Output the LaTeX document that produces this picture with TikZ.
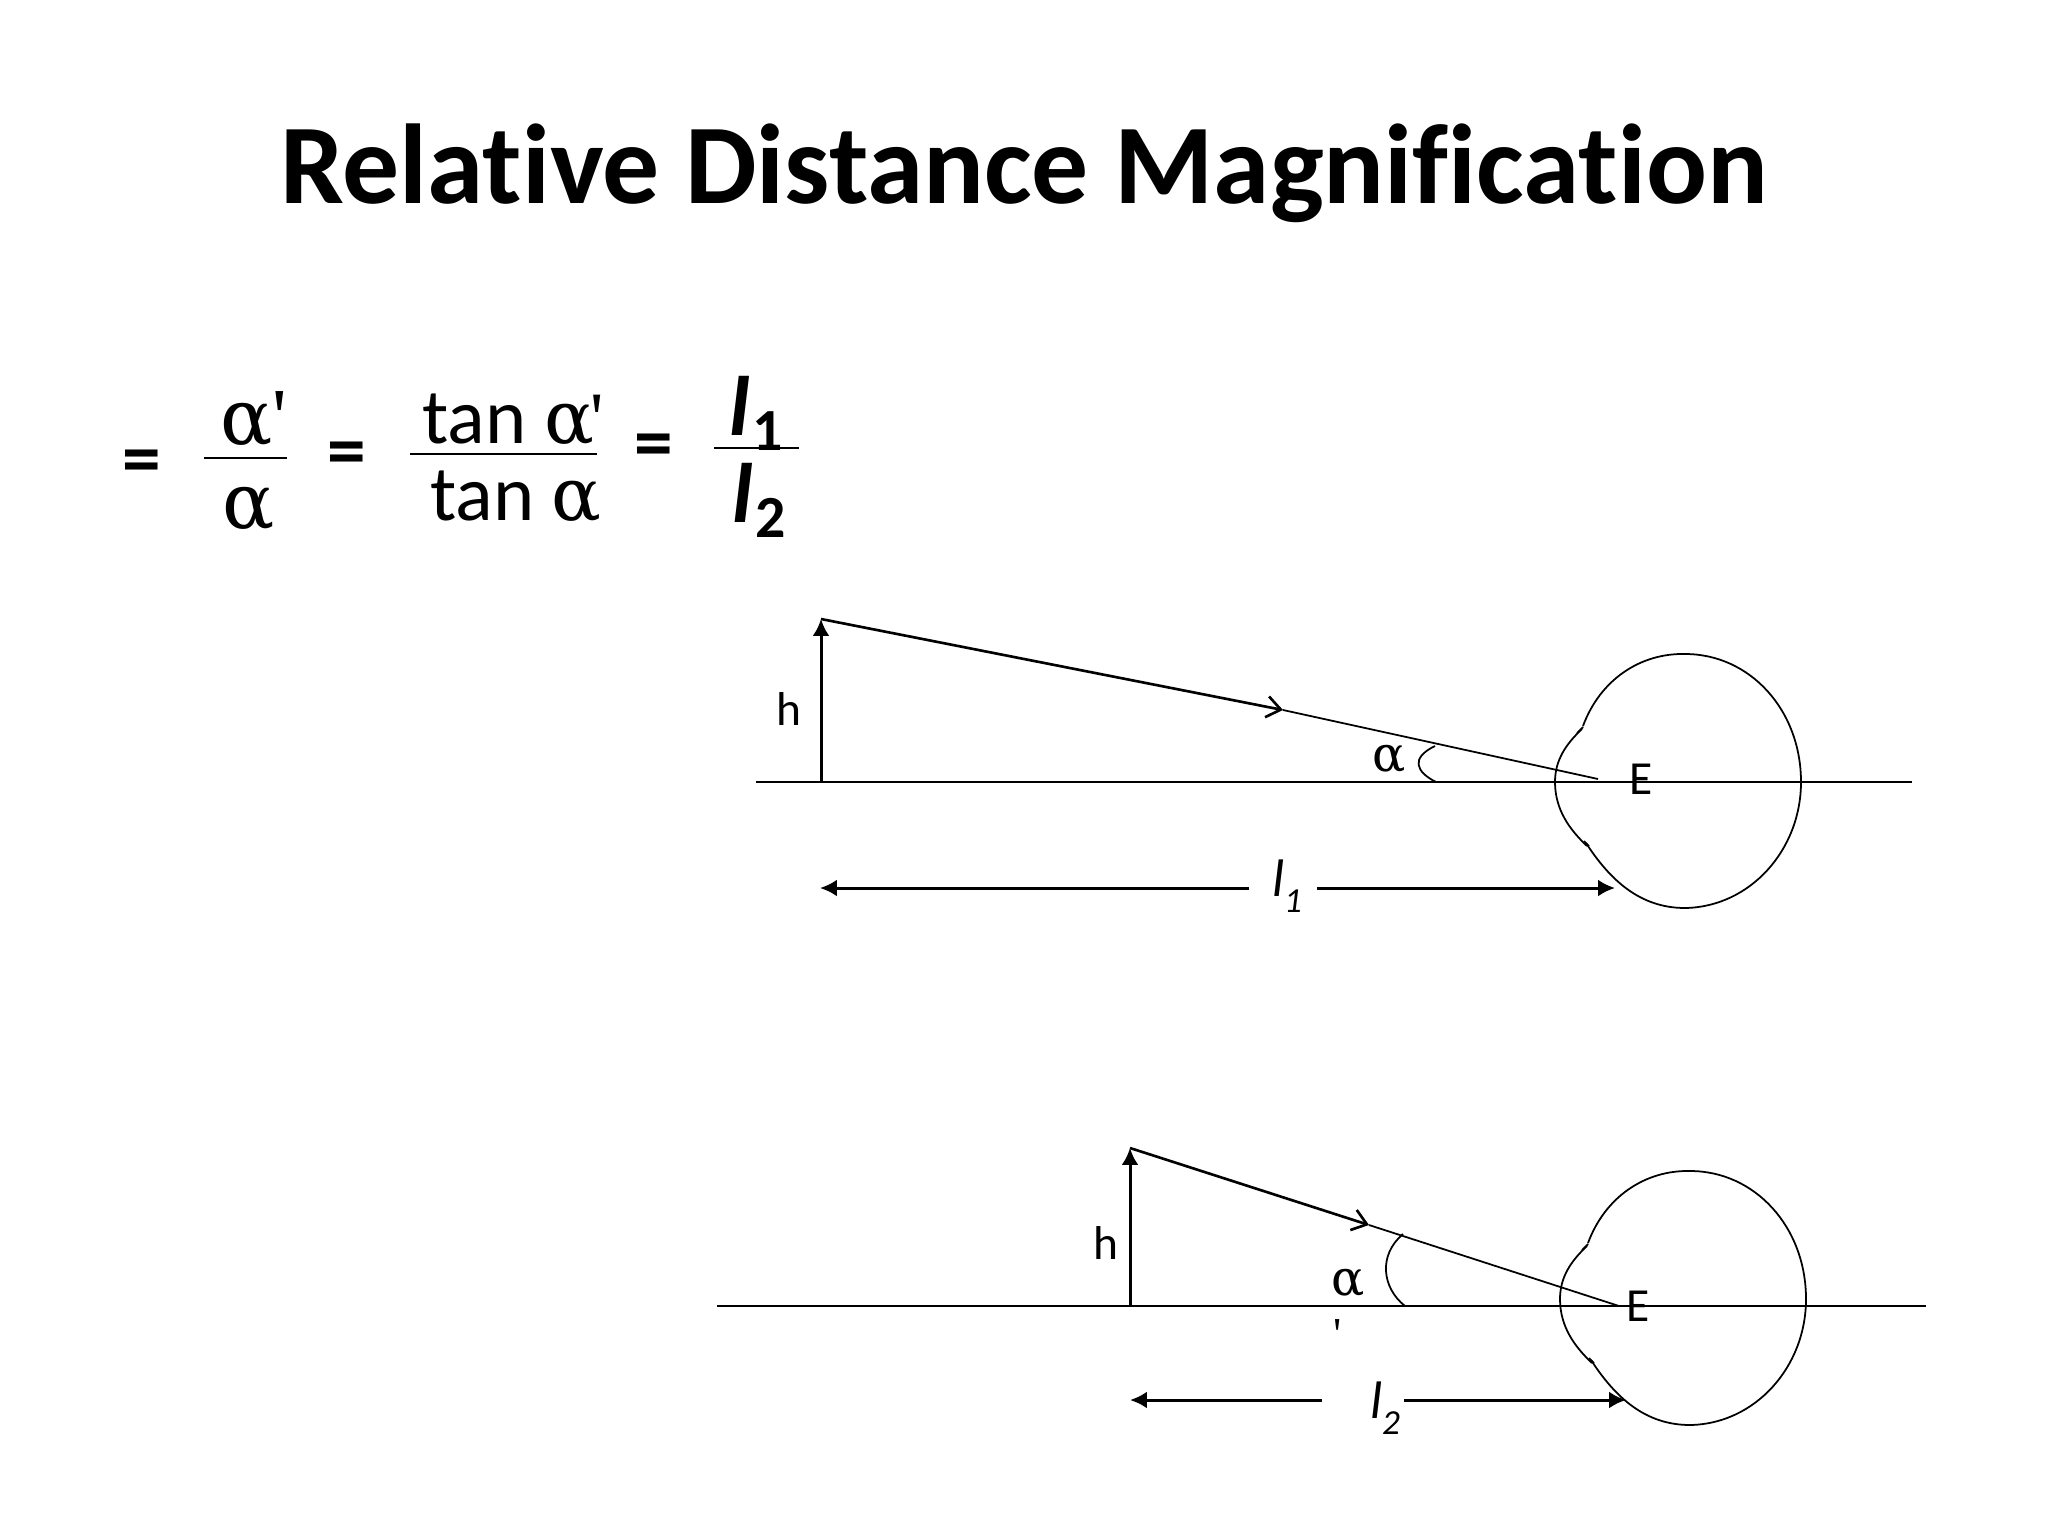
\documentclass[tikz,border=0pt]{standalone}
\usepackage{fontspec}
\defaultfontfeatures{}
\setmainfont{Carlito}[Ligatures={NoCommon,NoContextual}]
\newfontfamily\grk{DejaVu Serif}
\newfontfamily\prm{Liberation Serif}
\usetikzlibrary{arrows.meta}
\tikzset{
  px/.style={x=0.01cm,y=-0.01cm},
  lbl/.style={inner sep=0pt,outer sep=0pt,font=\fontsize{13.5}{15}\selectfont},
  eqn/.style={inner sep=0pt,outer sep=0pt,font=\fontsize{22.3}{26}\selectfont},
  eqsign/.style={inner sep=0pt,outer sep=0pt,font=\fontsize{22}{24}\selectfont\bfseries},
  grkbig/.style={inner sep=0pt,outer sep=0pt,font=\fontsize{22}{26}\grk},
  grksmall/.style={inner sep=0pt,outer sep=0pt,font=\fontsize{14}{15}\grk},
  thin line/.style={line width=0.5pt,black},
  solidtip/.style={-{Latex[length=4.8pt,width=4.8pt]},line width=0.85pt},
  opentip/.style={-{Straight Barb[length=4pt,width=6pt]},line width=0.75pt},
  eye/.pic={
    \draw[thin line,line join=round]
      (1583,726) .. controls (1600,680) and (1640,653) .. (1685,654)
      .. controls (1750,654) and (1801,710) .. (1801,782)
      .. controls (1801,850) and (1750,907) .. (1685,908)
      .. controls (1640,908) and (1610,880) .. (1586,843);
    \draw[thin line]
      (1587,846) .. controls (1570,830) and (1555,810) .. (1555,782)
      .. controls (1555,760) and (1566,744) .. (1582,729);
    \draw[thin line] (1577,733) -- (1583,727);
    \draw[thin line] (1584,841) -- (1589,846);
  }
}
\begin{document}
\begin{tikzpicture}[px]
\useasboundingbox (0,0) rectangle (2048,1536);
\fill[white] (0,0) rectangle (2048,1536);
\node[inner sep=0pt,font=\fontsize{32.3}{36}\selectfont\bfseries] (title) at (1024,173) {Relative Distance Magnification};

% equation
\node[eqsign] (eq1) at (142,467) {=};
\node[grkbig] (a1) at (254,419) {α{\prm\fontsize{23}{24}\selectfont '}};
\node[grkbig] (a2) at (249,509) {α};
\draw[thin line] (204,458) -- (287,458);
\node[eqsign] (eq2) at (347,459) {=};
\node[eqn] (t1) at (513,420) {tan {\grk\fontsize{21}{24}\selectfont α}\kern-1pt{\prm\fontsize{21}{24}\selectfont '}};
\node[eqn] (t2) at (516,497) {tan {\grk\fontsize{21}{24}\selectfont α}};
\draw[thin line] (410,454) -- (597,454);
\node[eqsign] (eq3) at (654,451) {=};
\node[eqn,font=\fontsize{24}{28}\selectfont\bfseries] (l1f) at (756,413) {\textit{l}\kern0.6pt\raisebox{-4.2pt}{\fontsize{17}{20}\selectfont 1}};
\node[eqn,font=\fontsize{24}{28}\selectfont\bfseries] (l2f) at (759,500) {\textit{l}\kern0.6pt\raisebox{-4.2pt}{\fontsize{17}{20}\selectfont 2}};
\draw[thin line] (714,448) -- (799,448);

% upper diagram
\coordinate (ax1l) at (756,782); \coordinate (ax1r) at (1912,782);
\coordinate (base1) at (821,782); \coordinate (top1) at (821,619);
\coordinate (tip1) at (1283,710); \coordinate (end1) at (1598,779);
\pic {eye};
\draw[thin line] (ax1l) -- (ax1r);
\draw[solidtip] (base1) -- (top1);
\draw[opentip] (top1) -- (tip1);
\draw[thin line] (tip1) -- (end1);
\draw[thin line] (1435,746) .. controls (1410,758) and (1416,772) .. (1436,782);
\node[lbl] (h1) at (789,709) {h};
\node[grksmall] (al1) at (1389,759) {α};
\node[lbl] (E1) at (1641,779) {E};
\node[lbl,font=\fontsize{15}{18}\selectfont\itshape] (L1) at (1287,886) {l\raisebox{-0.3em}{\fontsize{10}{13}\selectfont 1}};
\coordinate (d1a) at (1249,888); \coordinate (d1b) at (820,888);
\coordinate (d1c) at (1317,888); \coordinate (d1d) at (1615,888);
\draw[solidtip] (d1a) -- (d1b);
\draw[solidtip] (d1c) -- (d1d);

% lower diagram
\coordinate (ax2l) at (717,1306); \coordinate (ax2r) at (1926,1306);
\coordinate (base2) at (1130,1306); \coordinate (top2) at (1130,1148);
\coordinate (tip2) at (1369,1225); \coordinate (end2) at (1619,1306);
\pic[shift={(5,517)}] {eye};
\draw[thin line] (ax2l) -- (ax2r);
\draw[solidtip] (base2) -- (top2);
\draw[opentip] (top2) -- (tip2);
\draw[thin line] (tip2) -- (end2);
\draw[thin line] (1403,1234) .. controls (1378,1255) and (1382,1288) .. (1405,1306);
\node[lbl] (h2) at (1106,1243) {h};
\node[grksmall] (al2) at (1348,1283) {α};
\node[lbl,font=\fontsize{13}{15}\prm] (pr2) at (1338,1335) {'};
\node[lbl] (E2) at (1638,1306) {E};
\node[lbl,font=\fontsize{15}{18}\selectfont\itshape] (L2) at (1385,1408) {l\raisebox{-0.3em}{\fontsize{10}{13}\selectfont 2}};
\coordinate (d2a) at (1322,1400); \coordinate (d2b) at (1130,1400);
\coordinate (d2c) at (1404,1400); \coordinate (d2d) at (1626,1400);
\draw[solidtip] (d2a) -- (d2b);
\draw[solidtip] (d2c) -- (d2d);
\end{tikzpicture}
\end{document}
